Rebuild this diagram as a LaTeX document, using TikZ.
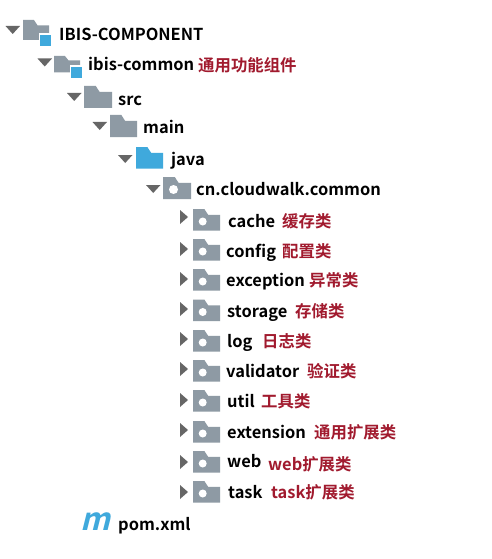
\documentclass[tikz,border=0pt]{standalone}
\usepackage{fontspec}
\setmainfont{Noto Sans CJK SC Bold}
\definecolor{foldergray}{HTML}{8E9AA4}
\definecolor{iconblue}{HTML}{3FA9DC}
\definecolor{labelred}{HTML}{A11A2E}
\definecolor{arrowgray}{HTML}{666666}
\tikzset{
 x=1pt,y=-1pt,
 namelabel/.style={anchor=west,inner sep=0pt,font=\fontsize{16.45}{17}\selectfont,text=black,text height=12pt,text depth=3pt},
 notelabel/.style={anchor=west,inner sep=0pt,font=\fontsize{16.4}{17}\selectfont,text=labelred,text height=12pt,text depth=3pt},
}
\newcommand{\folderico}[5]{%
 \fill[#5] (#1,#2) -- ({#1+0.42*#3},#2) -- ({#1+0.56*#3},{#2+0.27*#4}) -- ({#1+#3},{#2+0.27*#4}) -- ({#1+#3},{#2+#4}) -- (#1,{#2+#4}) -- cycle;}
\newcommand{\downtri}[2]{\fill[arrowgray] (#1,#2) -- ({#1+14.5},#2) -- ({#1+7.2},{#2+8}) -- cycle;}
\newcommand{\righttri}[2]{\fill[arrowgray] (#1,#2) -- ({#1+8},{#2+7}) -- (#1,{#2+14}) -- cycle;}
% id, folder top y, triangle top y, name x, note x, text y, name, note
\newcommand{\pkgrow}[8]{%
 \righttri{180}{#3}
 \folderico{193}{#2}{27}{21.5}{foldergray}
 \fill[white] (202.7,#2+12.5) circle (4);
 \node[namelabel] (#1n) at (#4,#6) {#7};
 \node[notelabel] (#1r) at (#5,#6) {#8};}
\begin{document}
\begin{tikzpicture}
\useasboundingbox (0,0) rectangle (492,559);
\fill[white] (0,0) rectangle (492,559);
\downtri{5.5}{26}
\folderico{23}{20}{26}{20}{foldergray}
\fill[white] (38.5,33.5) rectangle (52,47.5);
\fill[iconblue] (40,35) rectangle (51,46);
\node[namelabel] (root) at (59,36) {IBIS-COMPONENT};
\downtri{37.5}{58.5}
\folderico{54}{56}{26}{16.5}{foldergray}
\fill[white] (69.5,65.5) rectangle (83,79.5);
\fill[iconblue] (71,67) rectangle (82,78);
\node[namelabel] (common) at (88,66) {ibis-common};
\node[notelabel] (commonr) at (198,67) {通用功能组件};
\downtri{67}{93}
\folderico{84}{86}{28}{22}{foldergray}
\node[namelabel] (src) at (118,101) {src};
\downtri{92.5}{122}
\folderico{110}{115}{27}{22}{foldergray}
\node[namelabel] (main) at (143,129) {main};
\downtri{118}{155}
\folderico{136}{147}{27}{21.5}{iconblue}
\node[namelabel] (java) at (171,161) {java};
\downtri{146}{185}
\folderico{163}{177}{28}{22}{foldergray}
\fill[white] (173.5,189.5) circle (4.5);
\node[namelabel] (pkg) at (196,191) {cn.cloudwalk.common};
\pkgrow{cache}{209}{210}{228}{282}{223}{cache}{缓存类}
\pkgrow{config}{239}{242}{226}{282}{253}{config}{配置类}
\pkgrow{exc}{269}{272}{226}{309}{282}{exception}{异常类}
\pkgrow{stor}{299.5}{302}{227}{295}{313}{storage}{存储类}
\pkgrow{log}{330}{332}{227}{262}{343}{log}{日志类}
\pkgrow{val}{360}{362}{226}{307}{373}{validator}{验证类}
\pkgrow{util}{390}{393}{227}{261}{403}{util}{工具类}
\pkgrow{ext}{421}{423}{227}{314}{434}{extension}{通用扩展类}
\righttri{180}{455}
\folderico{193}{451}{27}{21.5}{foldergray}
\fill[white] (202.7,463.5) circle (4);
\node[namelabel] (webn) at (227,463) {web};
\node[notelabel] (webr) at (268,466) {web扩展类};
\pkgrow{task}{481}{485}{228}{271}{494}{task}{task扩展类}
\node[anchor=center,inner sep=0pt,font=\fontsize{31}{31}\selectfont,text=iconblue,xslant=0.25] (m) at (97.5,522) {m};
\node[namelabel] (pom) at (118,526) {pom.xml};
\end{tikzpicture}
\end{document}
